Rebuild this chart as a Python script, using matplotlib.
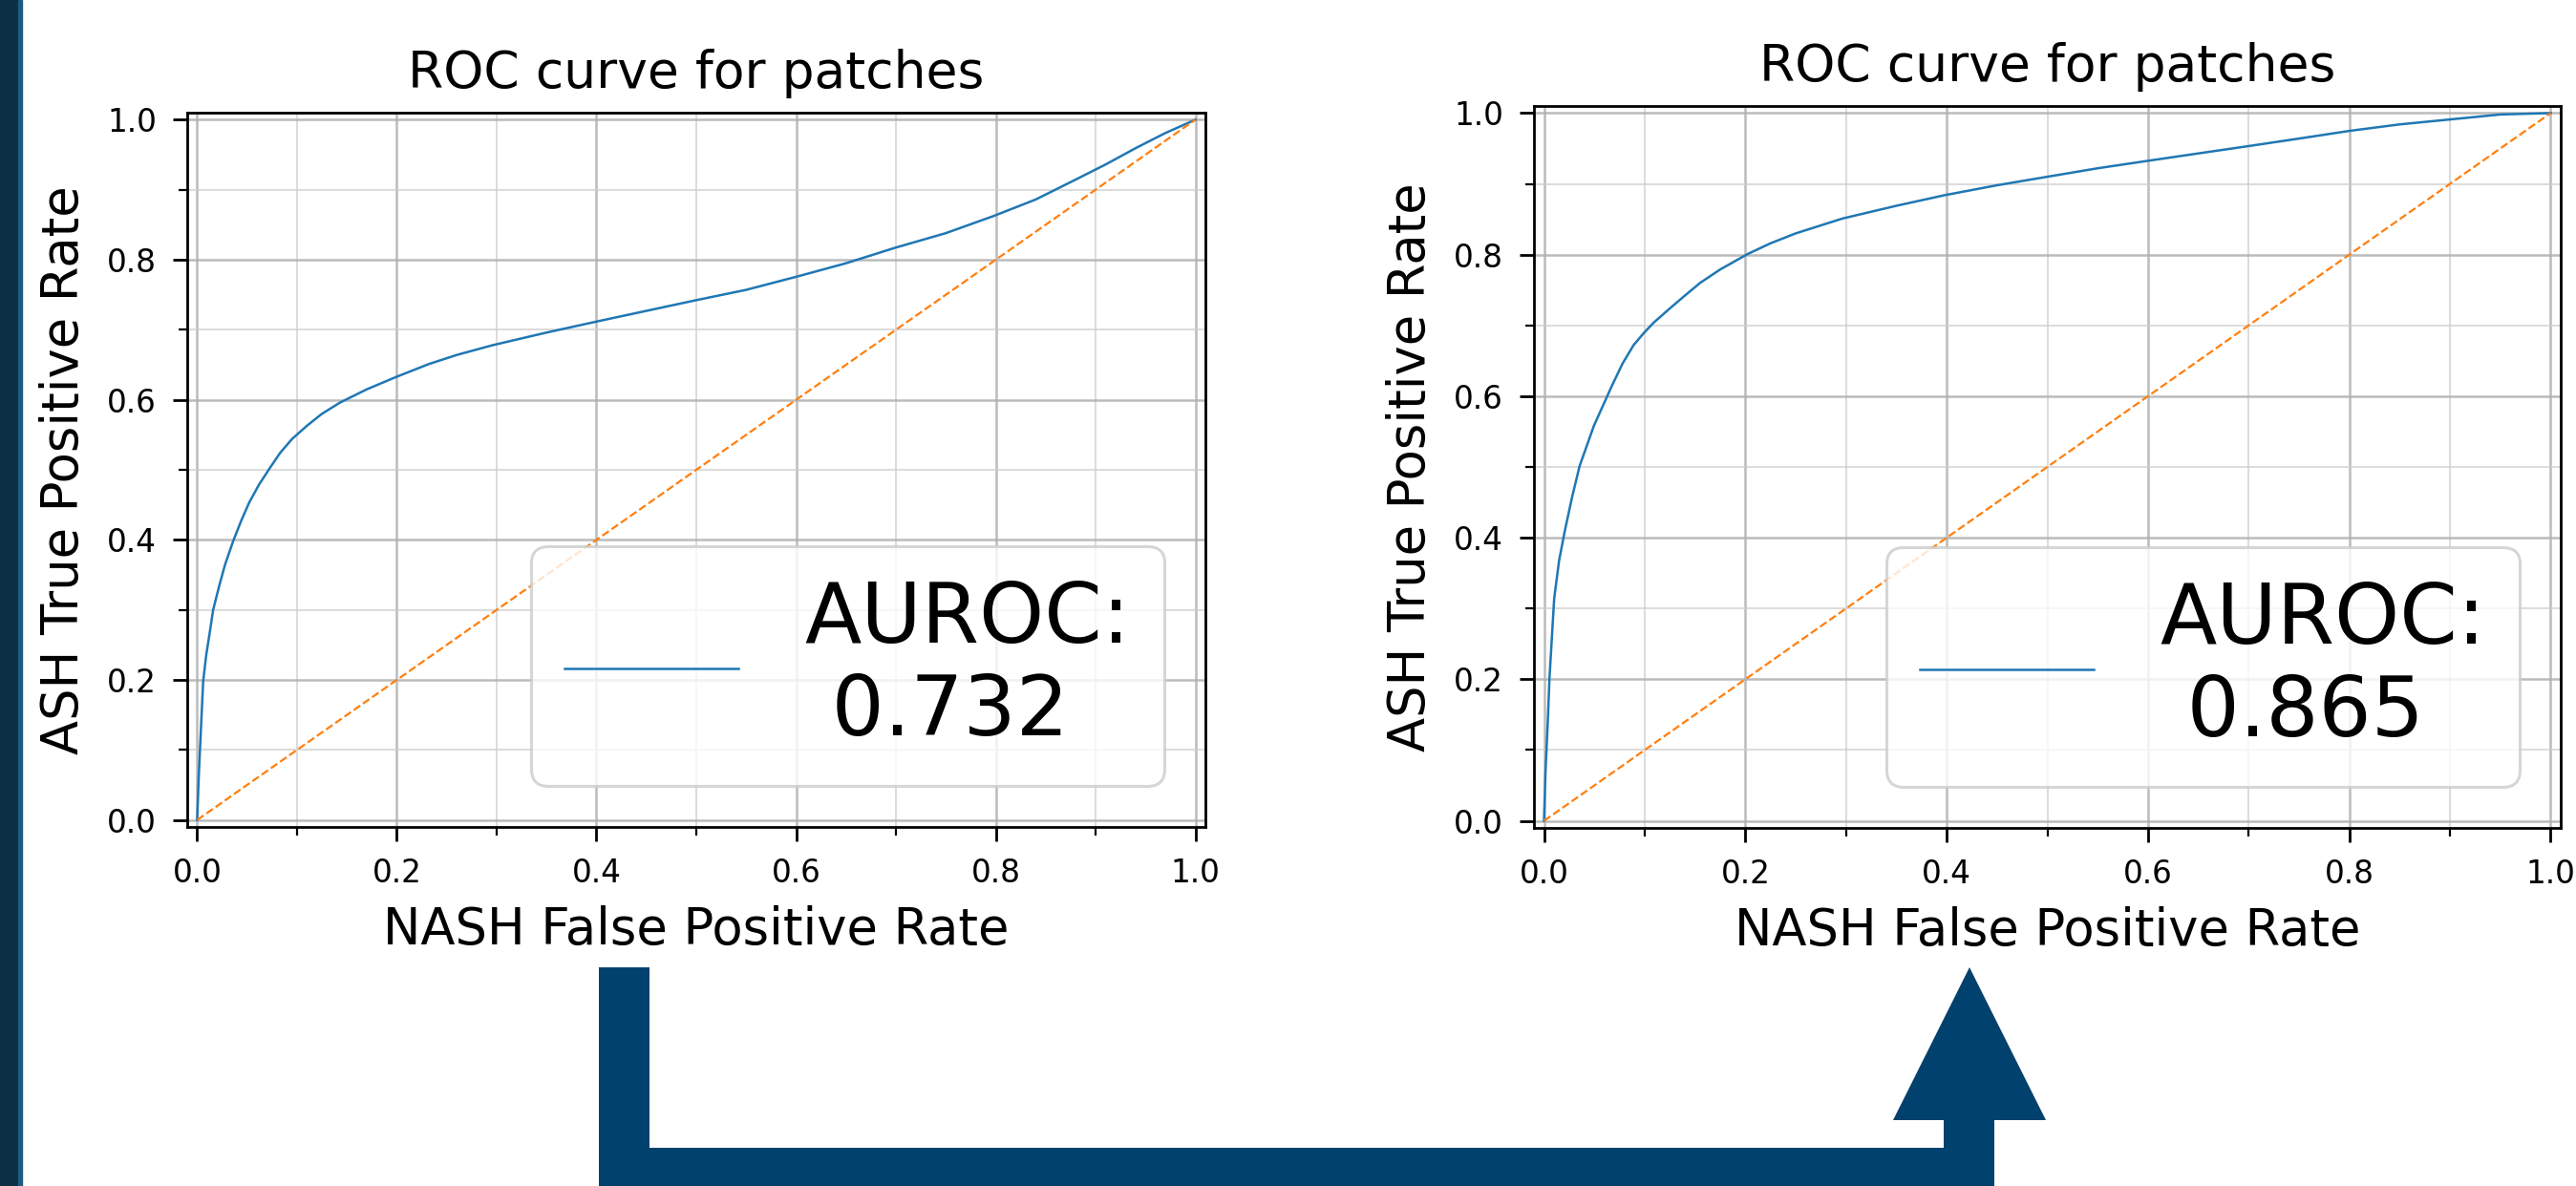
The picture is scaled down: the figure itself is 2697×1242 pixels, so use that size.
import numpy as np
import matplotlib
matplotlib.use("Agg")
import matplotlib.pyplot as plt
from matplotlib.patches import Polygon, Rectangle
from matplotlib.ticker import MultipleLocator

W, H, DPI = 2697, 1242, 100

# ROC points
fpr_a = [0, 0.0015, 0.003, 0.006, 0.009, 0.0124, 0.016, 0.022, 0.028, 0.036,
         0.044, 0.052, 0.062, 0.073, 0.083, 0.095, 0.11, 0.125, 0.143, 0.17,
         0.2, 0.232, 0.26, 0.296, 0.35, 0.401, 0.45, 0.499, 0.55, 0.601,
         0.65, 0.699, 0.75, 0.797, 0.84, 0.878, 0.91, 0.941, 0.97, 1.0]
tpr_a = [0, 0.06, 0.107, 0.198, 0.235, 0.266, 0.300, 0.334, 0.365, 0.398,
         0.427, 0.453, 0.479, 0.503, 0.524, 0.544, 0.563, 0.580, 0.596, 0.615,
         0.633, 0.651, 0.664, 0.678, 0.696, 0.712, 0.727, 0.742, 0.757, 0.776,
         0.795, 0.817, 0.838, 0.862, 0.886, 0.913, 0.936, 0.960, 0.981, 1.0]
auc_a = 0.732

fpr_b = [0, 0.0015, 0.0038, 0.0054, 0.0101, 0.015, 0.021, 0.028, 0.0353, 0.0495,
         0.0669, 0.078, 0.0889, 0.099, 0.109, 0.125, 0.139, 0.155, 0.175, 0.2025,
         0.225, 0.25, 0.2965, 0.35, 0.398, 0.45, 0.4999, 0.55, 0.602, 0.65,
         0.703, 0.75, 0.801, 0.85, 0.9, 0.95, 1.0]
tpr_b = [0, 0.07, 0.142, 0.201, 0.314, 0.368, 0.412, 0.458, 0.501, 0.558,
         0.613, 0.646, 0.672, 0.689, 0.704, 0.724, 0.741, 0.760, 0.779, 0.801,
         0.816, 0.830, 0.851, 0.869, 0.884, 0.898, 0.910, 0.922, 0.933, 0.943,
         0.954, 0.964, 0.975, 0.984, 0.991, 0.998, 1.0]
auc_b = 0.865

chance = [0, 1]
ticks = [0.0, 0.2, 0.4, 0.6, 0.8, 1.0]

title = "ROC curve for patches"
xlab = "NASH False Positive Rate"
ylab = "ASH True Positive Rate"

navy = "#00416d"

fig = plt.figure(figsize=(W / DPI, H / DPI), dpi=DPI)


def px_box(x0, y0, x1, y1):
    return [x0 / W, 1 - y1 / H, (x1 - x0) / W, (y1 - y0) / H]


def roc_panel(ax, fpr, tpr, auc):
    ax.plot(fpr, tpr, color="#1f77b4", lw=1.8, label="AUROC:\n %.3f" % auc)
    ax.plot(chance, chance, color="#ff7f0e", lw=1.6, ls="--")
    ax.set_xlim(-0.01, 1.01)
    ax.set_ylim(-0.01, 1.01)
    ax.set_xticks(ticks)
    ax.set_yticks(ticks)
    ax.xaxis.set_minor_locator(MultipleLocator(0.1))
    ax.yaxis.set_minor_locator(MultipleLocator(0.1))
    ax.grid(which="major", color="#b0b0b0", lw=1.8, alpha=0.85)
    ax.grid(which="minor", color="#cccccc", lw=1.4, alpha=0.7)
    ax.tick_params(which="major", length=11, width=2, pad=12, labelsize=23.5)
    ax.tick_params(which="minor", length=6.5, width=1.6)
    for s in ax.spines.values():
        s.set_linewidth(2)
    ax.set_title(title, fontsize=38.5, pad=19)
    ax.set_xlabel(xlab, fontsize=38, labelpad=12)
    ax.set_ylabel(ylab, fontsize=38, labelpad=14)
    leg = ax.legend(loc="lower right", fontsize=62.5, handlelength=2.1,
                    framealpha=0.8, edgecolor="0.8")
    leg.get_frame().set_linewidth(2.2)


ax1 = fig.add_axes(px_box(196, 118, 1262, 866))
roc_panel(ax1, fpr_a, tpr_a, auc_a)

ax2 = fig.add_axes(px_box(1606, 111, 2681, 867))
roc_panel(ax2, fpr_b, tpr_b, auc_b)

# dark strip on the left edge
fig.patches.append(Rectangle((0, 0), 19 / W, 1, transform=fig.transFigure,
                             color="#0d2f44", zorder=5))
fig.patches.append(Rectangle((19 / W, 0), 4 / W, 1, transform=fig.transFigure,
                             color="#1c5a7e", zorder=5))

# elbow arrow from left panel to right panel
arrow_px = [(627, 1013), (680, 1013), (680, 1202), (2035, 1202), (2035, 1173),
            (1982, 1173), (2062, 1013), (2142, 1173), (2088, 1173), (2088, 1250),
            (627, 1250)]
arrow_fig = [(x / W, 1 - y / H) for x, y in arrow_px]
fig.patches.append(Polygon(arrow_fig, closed=True, transform=fig.transFigure,
                           facecolor=navy, edgecolor="none", zorder=5))

fig.savefig("out.png", dpi=DPI)
